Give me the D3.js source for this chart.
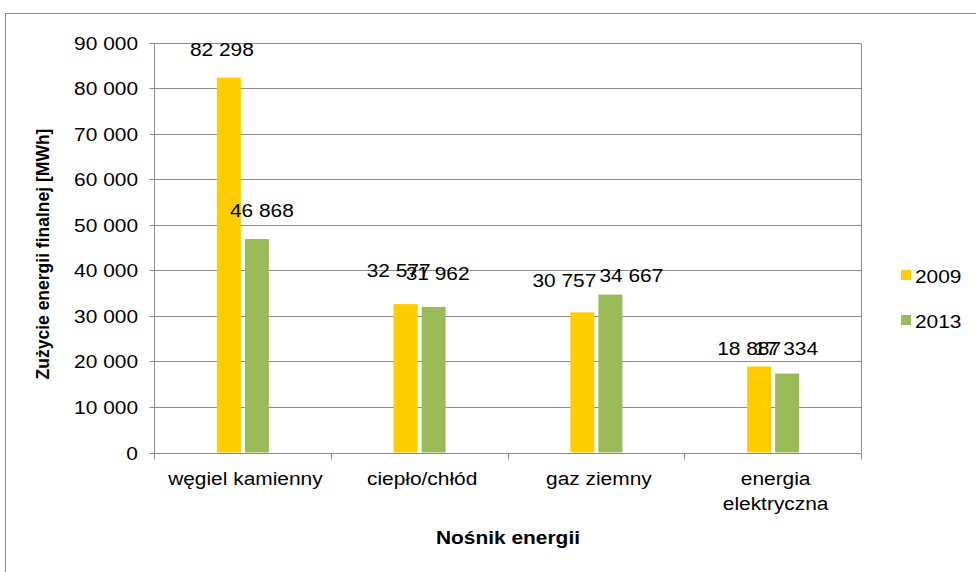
<!DOCTYPE html>
<html>
<head>
<meta charset="utf-8">
<script src="https://cdn.jsdelivr.net/npm/d3@7"></script>
<style>
  html, body { margin: 0; padding: 0; background: #fff; }
  svg { display: block; font-family: "Liberation Sans", Arial, sans-serif; }
</style>
</head>
<body>
<svg id="chart" width="976" height="572"></svg>
<script>
// Final energy consumption by energy carrier
const categories = [["węgiel kamienny"], ["ciepło/chłód"], ["gaz ziemny"], ["energia", "elektryczna"]];
const years = ["2009", "2013"];
const values2009 = [82298, 32577, 30757, 18887];
const values2013 = [46868, 31962, 34667, 17334];
const yTicks = [0, 10000, 20000, 30000, 40000, 50000, 60000, 70000, 80000, 90000];
const colors = ["#FFCC00", "#9BBB59"];

// hand-placed data label nudges: [dx from bar centre, gap above bar top]
const labelNudge = [
  [[-7, 22], [-7, 27], [-18, 25], [-10, 11.5]],
  [[5, 22], [4, 27], [21, 13], [-1, 18.5]]
];

const series = [values2009, values2013];
const svg = d3.select("#chart");
const fmt = v => d3.format(",")(v).replace(/,/g, " ");
const fs = 19, sx = 1.1;
const grid = "#8c8c8c";

// text drawn slightly widened, placed through a transform
function place(sel, xf, yf, rot = 0, scaleX = sx) {
  return sel.attr("transform", (d, i) => `translate(${xf(d, i)},${yf(d, i)}) rotate(${rot}) scale(${scaleX},1)`);
}

const plot = { left: 154, right: 861, top: 42.5, bottom: 452.5 };

// outer frame of the chart area
svg.append("path")
  .attr("d", "M5.5,600 V13.5 H1000")
  .attr("fill", "none").attr("stroke", grid).attr("stroke-width", 1);

const x = d3.scaleBand().domain(d3.range(categories.length)).range([plot.left, plot.right]).padding(0);
const y = d3.scaleLinear().domain([0, 90000]).range([plot.bottom, plot.top]);
const py = v => Math.round(y(v)) + 0.5;
const cx = i => x(i) + x.bandwidth() / 2;

// gridlines
svg.append("g").selectAll("line").data(yTicks.slice(1)).join("line")
  .attr("x1", plot.left).attr("x2", plot.right)
  .attr("y1", py).attr("y2", py)
  .attr("stroke", grid);

// right edge of plot area
svg.append("line")
  .attr("x1", plot.right + 0.5).attr("x2", plot.right + 0.5)
  .attr("y1", py(90000)).attr("y2", plot.bottom)
  .attr("stroke", grid);

// y axis line and ticks
const yAxis = d3.axisLeft(y).tickValues(yTicks).tickFormat("").tickSize(5);
const gy = svg.append("g").attr("transform", `translate(${plot.left + 0.5},0)`).call(yAxis);
gy.select(".domain").attr("stroke", grid).attr("d", `M-5,${py(90000)}H0V${py(0)}H-5`);
gy.selectAll(".tick line").attr("stroke", grid);
gy.selectAll(".tick").attr("transform", d => `translate(0,${py(d)})`);

// y tick labels
place(svg.append("g").selectAll("text").data(yTicks).join("text")
  .attr("text-anchor", "end").attr("font-size", fs).attr("fill", "#000")
  .text(fmt), () => 138, d => py(d) + 6.5);

// x axis baseline with category boundary ticks
const gx = svg.append("g");
gx.append("line").attr("x1", plot.left).attr("x2", plot.right + 1)
  .attr("y1", py(0)).attr("y2", py(0))
  .attr("stroke", grid);
const bounds = d3.range(categories.length + 1).map(i => i < categories.length ? x(i) : plot.right);
gx.selectAll("line.tk").data(bounds).join("line").attr("class", "tk")
  .attr("x1", d => Math.round(d) + 0.5).attr("x2", d => Math.round(d) + 0.5)
  .attr("y1", py(0)).attr("y2", py(0) + 6)
  .attr("stroke", grid);

// category labels
const catLines = categories.flatMap((lines, i) => lines.map((t, j) => ({ t, i, j })));
place(gx.selectAll("text.cat").data(catLines).join("text").attr("class", "cat")
  .attr("text-anchor", "middle").attr("font-size", fs).attr("fill", "#000")
  .text(d => d.t), d => cx(d.i) + 3, d => 485 + d.j * 25);

// bars and value labels
const barW = 24, gap = 4;
const barX = (i, s) => cx(i) - barW - gap / 2 + 0.5 + s * (barW + gap);
series.forEach((vals, s) => {
  const g = svg.append("g");
  g.selectAll("rect").data(vals).join("rect")
    .attr("x", (d, i) => barX(i, s))
    .attr("y", d => y(d))
    .attr("width", barW)
    .attr("height", d => y(0) - y(d))
    .attr("fill", colors[s]);
  place(g.selectAll("text").data(vals).join("text")
    .attr("text-anchor", "middle").attr("font-size", fs).attr("fill", "#000")
    .text(fmt),
    (d, i) => barX(i, s) + barW / 2 + labelNudge[s][i][0],
    (d, i) => y(d) - labelNudge[s][i][1]);
});

// axis titles
place(svg.append("text").datum(0)
  .attr("text-anchor", "middle").attr("font-size", 17.5).attr("font-weight", "bold")
  .text("Zużycie energii finalnej [MWh]"), () => 49, () => 254, -90, 1);
place(svg.append("text").datum(0)
  .attr("text-anchor", "middle").attr("font-size", fs).attr("font-weight", "bold")
  .text("Nośnik energii"), () => 508, () => 544);

// legend
const legend = svg.append("g").selectAll("g").data(years).join("g")
  .attr("transform", (d, i) => `translate(901,${270 + i * 45})`);
legend.append("rect").attr("width", 10).attr("height", 10).attr("fill", (d, i) => colors[i]);
place(legend.append("text").attr("font-size", fs).attr("fill", "#000").text(d => d), () => 14, () => 12.5);
</script>
</body>
</html>
